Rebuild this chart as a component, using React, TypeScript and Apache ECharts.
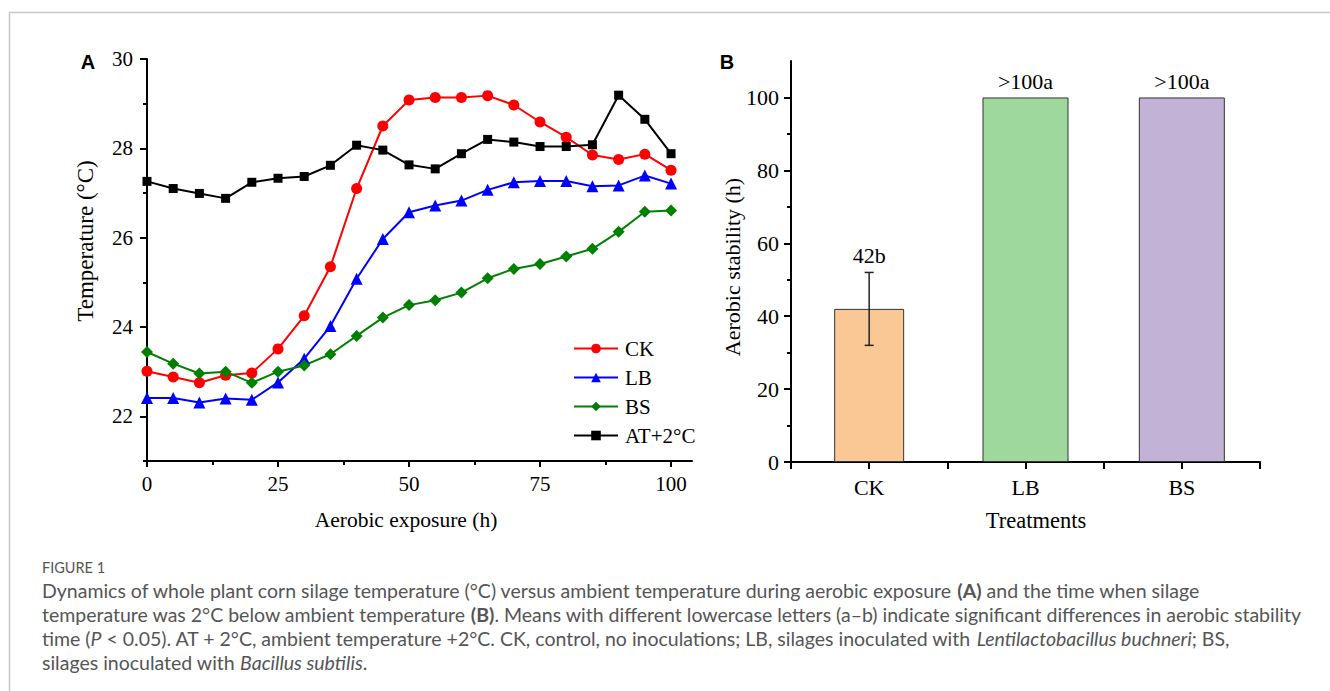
import React, { useEffect, useRef } from 'react';
import * as echarts from 'echarts';

const hours = [0, 5, 10, 15, 20, 25, 30, 35, 40, 45, 50, 55, 60, 65, 70, 75, 80, 85, 90, 95, 100];
const ck = [23.01, 22.88, 22.75, 22.92, 22.97, 23.51, 24.25, 25.35, 27.1, 28.5, 29.08, 29.14, 29.14, 29.18, 28.97, 28.59, 28.25, 27.85, 27.75, 27.87, 27.51];
const lb = [22.41, 22.41, 22.31, 22.4, 22.37, 22.76, 23.29, 24.02, 25.08, 25.97, 26.57, 26.72, 26.83, 27.07, 27.24, 27.27, 27.27, 27.15, 27.17, 27.39, 27.21];
const bs = [23.44, 23.18, 22.96, 23.0, 22.75, 23.0, 23.14, 23.39, 23.8, 24.21, 24.49, 24.6, 24.77, 25.09, 25.3, 25.41, 25.58, 25.75, 26.13, 26.58, 26.61];
const at = [27.26, 27.1, 26.99, 26.88, 27.24, 27.33, 27.37, 27.62, 28.07, 27.96, 27.63, 27.54, 27.88, 28.2, 28.14, 28.04, 28.04, 28.08, 29.19, 28.65, 27.88];

const tempTicks = [22, 24, 26, 28, 30];
const tempMinorTicks = [21, 23, 25, 27, 29];
const hourTicks = [0, 25, 50, 75, 100];
const hourMinorTicks = [12.5, 37.5, 62.5, 87.5];

const treatments = ['CK', 'LB', 'BS'];
const stability = [42, 100, 100];
const stabilityErr = [10, 0, 0];
const stabilityLabels = ['42b', '>100a', '>100a'];
const stabTicks = [0, 20, 40, 60, 80, 100];
const stabMinorTicks = [10, 30, 50, 70, 90];

const SERIF = '"Liberation Serif", "Times New Roman", "DejaVu Serif", serif';
const CAP = 'Lato, "Open Sans", sans-serif';
const CAPSIZE = 19.5;

export default function App() {
  const ref = useRef<HTMLDivElement>(null);
  useEffect(() => {
    if (!ref.current) return;
    const chart = echarts.init(ref.current, null, { renderer: 'svg' });
    const axisLine = { show: true, lineStyle: { color: '#000', width: 2 } };
    const lblA = { color: '#000', fontSize: 21, fontFamily: SERIF };
    const lblB = { color: '#000', fontSize: 22, fontFamily: SERIF };
    const mk = (name: string, data: number[], color: string, symbol: string, size: number) => ({
      name,
      type: 'line',
      xAxisIndex: 0,
      yAxisIndex: 0,
      data: hours.map((h, i) => [h, data[i]]),
      symbol,
      symbolSize: size,
      lineStyle: { color, width: 2 },
      itemStyle: { color },
      z: 3,
    });
    const capRich = {
      b: { fontWeight: 'bold', fontFamily: CAP, fontSize: CAPSIZE, color: '#555' },
      i: { fontStyle: 'italic', fontFamily: CAP, fontSize: CAPSIZE, color: '#555' },
    };
    const capLines = [
      'Dynamics of whole plant corn silage temperature (°C) versus ambient temperature during aerobic exposure {b|(A)} and the time when silage',
      'temperature was 2°C below ambient temperature {b|(B)}. Means with different lowercase letters (a–b) indicate significant differences in aerobic stability',
      'time ({i|P} < 0.05). AT + 2°C, ambient temperature +2°C. CK, control, no inoculations; LB, silages inoculated with {i|Lentilactobacillus buchneri}; BS,',
      'silages inoculated with {i|Bacillus subtilis}.',
    ];
    const capY = [590, 614, 638, 662];

    const option: any = {
      animation: false,
      backgroundColor: '#fff',
      grid: [
        { left: 147, top: 59, width: 545, height: 402, containLabel: false },
        { left: 791, top: 61, width: 469, height: 401, containLabel: false },
      ],
      legend: {
        orient: 'vertical',
        left: 568,
        top: 333,
        itemWidth: 44,
        itemHeight: 12,
        itemGap: 8,
        textStyle: { ...lblA, padding: [0, 0, 0, 2] },
        data: ['CK', 'LB', 'BS', 'AT+2°C'],
      },
      xAxis: [
        {
          gridIndex: 0, type: 'value', min: 0, max: 104, interval: 25,
          axisLine, splitLine: { show: false },
          axisTick: { show: true, inside: false, length: 6, lineStyle: { width: 2, color: '#000' }, customValues: hourTicks },
          axisLabel: { ...lblA, margin: 12, customValues: hourTicks },
        },
        {
          gridIndex: 0, type: 'value', min: 0, max: 104, position: 'bottom',
          axisLine: { show: false }, splitLine: { show: false }, axisLabel: { show: false },
          axisTick: { show: true, length: 4, lineStyle: { width: 2, color: '#000' }, customValues: hourMinorTicks },
        },
        {
          gridIndex: 1, type: 'category', data: treatments, position: 'bottom',
          axisLine, axisTick: { show: false },
          axisLabel: { ...lblB, margin: 14 },
        },
        {
          gridIndex: 1, type: 'value', min: 0, max: 3, interval: 0.5, position: 'bottom',
          axisLine: { show: false }, splitLine: { show: false }, axisLabel: { show: false },
          axisTick: { show: true, length: 7, lineStyle: { width: 2, color: '#000' } },
        },
        {
          gridIndex: 1, type: 'category', data: treatments, position: 'bottom', show: false,
        },
      ],
      yAxis: [
        {
          gridIndex: 0, type: 'value', min: 21, max: 30, interval: 1, position: 'left',
          axisLine, splitLine: { show: false },
          axisTick: { show: true, length: 7, lineStyle: { width: 2, color: '#000' }, customValues: tempTicks },
          axisLabel: { ...lblA, margin: 14, customValues: tempTicks },
        },
        {
          gridIndex: 0, type: 'value', min: 21, max: 30, interval: 1, position: 'left',
          axisLine: { show: false }, splitLine: { show: false }, axisLabel: { show: false },
          axisTick: { show: true, length: 4, lineStyle: { width: 2, color: '#000' }, customValues: tempMinorTicks },
        },
        {
          gridIndex: 1, type: 'value', min: 0, max: 110, interval: 10, position: 'left',
          axisLine, splitLine: { show: false },
          axisTick: { show: true, length: 7, lineStyle: { width: 2, color: '#000' }, customValues: stabTicks },
          axisLabel: { ...lblB, margin: 12, customValues: stabTicks },
        },
        {
          gridIndex: 1, type: 'value', min: 0, max: 110, interval: 10, position: 'left',
          axisLine: { show: false }, splitLine: { show: false }, axisLabel: { show: false },
          axisTick: { show: true, length: 4, lineStyle: { width: 2, color: '#000' }, customValues: stabMinorTicks },
        },
      ],
      series: [
        mk('CK', ck, '#FF0000', 'circle', 11),
        mk('LB', lb, '#0000FF', 'triangle', 12),
        mk('BS', bs, '#008000', 'diamond', 12),
        mk('AT+2°C', at, '#000000', 'rect', 9),
        {
          type: 'bar', xAxisIndex: 2, yAxisIndex: 2, barWidth: 70,
          data: stability.map((v, i) => (i === 0 ? v : '-')),
          itemStyle: { color: '#F9C895', borderColor: '#333', borderWidth: 1 },
        },
        {
          type: 'bar', xAxisIndex: 4, yAxisIndex: 2, barWidth: 86,
          data: stability.map((v, i) =>
            i === 0 ? '-' : { value: v, itemStyle: { color: i === 1 ? '#9FD89D' : '#C2B2D6' } }
          ),
          itemStyle: { borderColor: '#333', borderWidth: 1 },
        },
        {
          type: 'custom', xAxisIndex: 2, yAxisIndex: 2, z: 5,
          data: stability.map((v, i) => [i, v, stabilityErr[i]]),
          renderItem: (params: any, api: any) => {
            const i = api.value(0);
            const v = api.value(1);
            const e = api.value(2);
            const hi = api.coord([i, v + e]);
            const lo = api.coord([i, v - e]);
            const children: any[] = [];
            const ls = { stroke: '#222', lineWidth: 1.5 };
            if (e > 0) {
              children.push({ type: 'line', shape: { x1: hi[0], y1: hi[1], x2: lo[0], y2: lo[1] }, style: ls });
              children.push({ type: 'line', shape: { x1: hi[0] - 4.5, y1: hi[1], x2: hi[0] + 4.5, y2: hi[1] }, style: ls });
              children.push({ type: 'line', shape: { x1: lo[0] - 4.5, y1: lo[1], x2: lo[0] + 4.5, y2: lo[1] }, style: ls });
            }
            children.push({
              type: 'text',
              style: {
                text: stabilityLabels[i], x: hi[0], y: hi[1] - (e > 0 ? 17 : 16),
                align: 'center', verticalAlign: 'middle',
                font: `22px ${SERIF}`, fill: '#000',
              },
            });
            return { type: 'group', children };
          },
        },
      ],
      graphic: [
        { type: 'line', shape: { x1: 9, y1: 12.5, x2: 1330, y2: 12.5 }, style: { stroke: '#c8c8c8', lineWidth: 1.5 } },
        { type: 'line', shape: { x1: 9.5, y1: 12, x2: 9.5, y2: 691 }, style: { stroke: '#c8c8c8', lineWidth: 1.5 } },
        { type: 'text', x: 88, y: 62, style: { text: 'A', font: `bold 20px Arial, "Liberation Sans", sans-serif`, fill: '#000', align: 'center', verticalAlign: 'middle' } },
        { type: 'text', x: 727, y: 62, style: { text: 'B', font: `bold 20px Arial, "Liberation Sans", sans-serif`, fill: '#000', align: 'center', verticalAlign: 'middle' } },
        { type: 'text', x: 85, y: 241, rotation: Math.PI / 2, style: { text: 'Temperature (°C)', font: `23px ${SERIF}`, fill: '#000', align: 'center', verticalAlign: 'middle' } },
        { type: 'text', x: 406, y: 520, style: { text: 'Aerobic exposure (h)', font: `21.5px ${SERIF}`, fill: '#000', align: 'center', verticalAlign: 'middle' } },
        { type: 'text', x: 732, y: 267, rotation: Math.PI / 2, style: { text: 'Aerobic stability (h)', font: `22px ${SERIF}`, fill: '#000', align: 'center', verticalAlign: 'middle' } },
        { type: 'text', x: 1036, y: 520, style: { text: 'Treatments', font: `22.5px ${SERIF}`, fill: '#000', align: 'center', verticalAlign: 'middle' } },
        { type: 'text', x: 42, y: 567, style: { text: 'FIGURE 1', font: `14.5px ${CAP}`, fill: '#555', align: 'left', verticalAlign: 'middle' } },
        ...capLines.map((t, k) => ({
          type: 'text', x: 42, y: capY[k],
          style: { text: t, rich: capRich, font: `${CAPSIZE}px ${CAP}`, fill: '#555', align: 'left', verticalAlign: 'middle' },
        })),
      ],
    };
    chart.setOption(option);
    return () => chart.dispose();
  }, []);
  return <div ref={ref} style={{ position: 'absolute', left: 0, top: 0, width: 1330, height: 691 }} />;
}
